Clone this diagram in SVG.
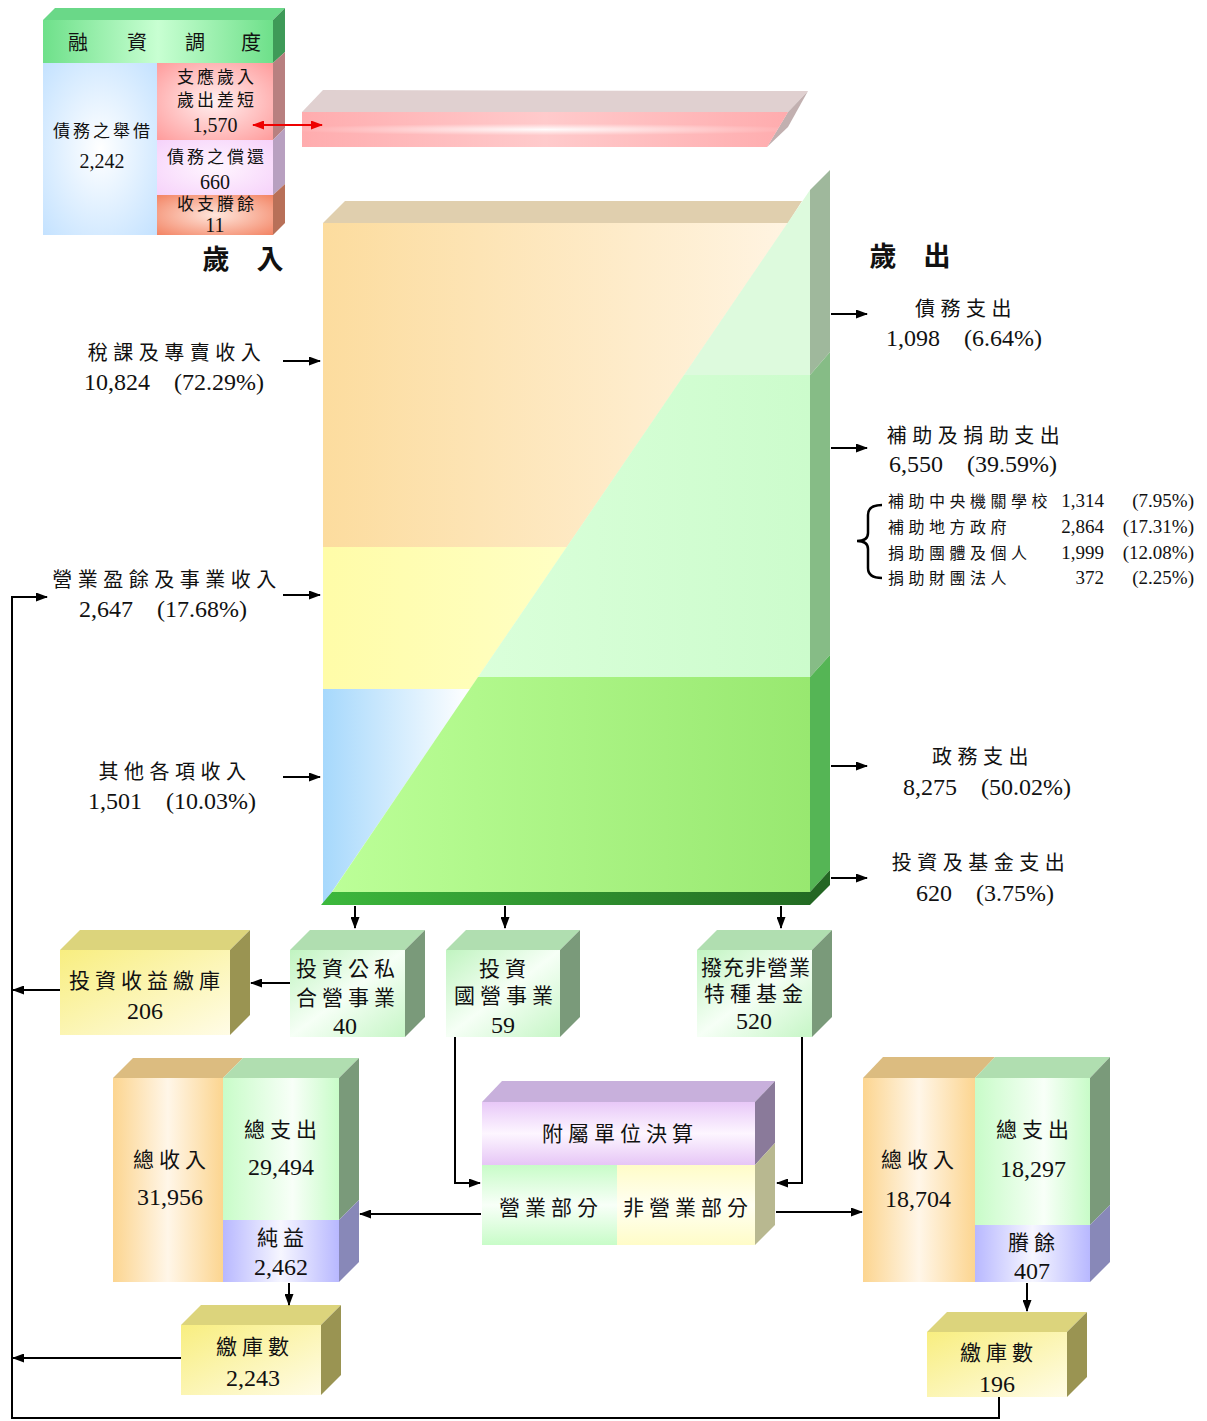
<svg xmlns="http://www.w3.org/2000/svg" width="1207" height="1421" viewBox="0 0 1207 1421">
<style>
text{font-family:"Liberation Serif","Noto Sans CJK TC",serif;fill:#111;text-anchor:middle}
.l{font-size:20px;letter-spacing:5.5px}
.n{font-size:24px}
.s{font-size:17px;letter-spacing:3px}
.sn{font-size:20px}
.b{font-size:21px;letter-spacing:5px}
.bn{font-size:24px}
.h{font-size:27px;font-weight:bold}
.k{font-size:16px;letter-spacing:4.5px;text-anchor:start}
.kn{font-size:19px;text-anchor:end}
.ln{fill:none;stroke:#000;stroke-width:2}
</style>
<defs>
<marker id="ah" viewBox="0 0 12 9" refX="11" refY="4.5" markerWidth="12" markerHeight="9" markerUnits="userSpaceOnUse" orient="auto"><path d="M0,0 L12,4.5 L0,9 z" fill="#000"/></marker>
<marker id="rh" viewBox="0 0 12 9" refX="11" refY="4.5" markerWidth="13" markerHeight="9" markerUnits="userSpaceOnUse" orient="auto-start-reverse"><path d="M0,0 L12,4.5 L0,9 z" fill="#e00"/></marker>
<linearGradient id="gTax" x1="323" y1="0" x2="790" y2="0" gradientUnits="userSpaceOnUse"><stop offset="0" stop-color="#fcdc9e"/><stop offset="1" stop-color="#fff4e2"/></linearGradient>
<linearGradient id="gYel" x1="323" y1="0" x2="567" y2="0" gradientUnits="userSpaceOnUse"><stop offset="0" stop-color="#fffca8"/><stop offset="1" stop-color="#ffffc4"/></linearGradient>
<linearGradient id="gBlu" x1="323" y1="0" x2="470" y2="0" gradientUnits="userSpaceOnUse"><stop offset="0" stop-color="#a6d8fc"/><stop offset="1" stop-color="#ffffff"/></linearGradient>
<linearGradient id="gSub" x1="478" y1="0" x2="810" y2="0" gradientUnits="userSpaceOnUse"><stop offset="0" stop-color="#daffda"/><stop offset="1" stop-color="#ccfccc"/></linearGradient>
<linearGradient id="gGov" x1="332" y1="0" x2="810" y2="0" gradientUnits="userSpaceOnUse"><stop offset="0" stop-color="#bcff98"/><stop offset="1" stop-color="#98e870"/></linearGradient>
<linearGradient id="gStrip" x1="323" y1="0" x2="810" y2="0" gradientUnits="userSpaceOnUse"><stop offset="0" stop-color="#3cb83c"/><stop offset="1" stop-color="#236b23"/></linearGradient>
<linearGradient id="gHdr" x1="0" y1="0" x2="1" y2="0"><stop offset="0" stop-color="#6ee08a"/><stop offset="0.5" stop-color="#c8ffd2"/><stop offset="1" stop-color="#6ee08a"/></linearGradient>
<radialGradient id="rBlue" cx="0.5" cy="0.5" r="0.7"><stop offset="0" stop-color="#ffffff"/><stop offset="1" stop-color="#c4e2ff"/></radialGradient>
<radialGradient id="rPink" cx="0.5" cy="0.5" r="0.7"><stop offset="0" stop-color="#fff0f0"/><stop offset="1" stop-color="#ff9c9c"/></radialGradient>
<radialGradient id="rLav" cx="0.5" cy="0.5" r="0.7"><stop offset="0" stop-color="#fff6ff"/><stop offset="1" stop-color="#f6d2fa"/></radialGradient>
<radialGradient id="rOr" cx="0.5" cy="0.5" r="0.7"><stop offset="0" stop-color="#ffe6dc"/><stop offset="1" stop-color="#f38464"/></radialGradient>
<radialGradient id="rBar" cx="0.5" cy="0.5" r="0.55" gradientTransform="translate(0.5 0.5) scale(1 0.3) translate(-0.5 -0.5)"><stop offset="0" stop-color="#ffffff"/><stop offset="1" stop-color="#ffacae"/></radialGradient>
<linearGradient id="gBarV" x1="0" y1="0" x2="1" y2="0"><stop offset="0" stop-color="#ffacae"/><stop offset="0.5" stop-color="#fff8f8"/><stop offset="1" stop-color="#ffacae"/></linearGradient>
<linearGradient id="gGreen" x1="0" y1="0" x2="1" y2="1"><stop offset="0" stop-color="#c0f4c0"/><stop offset="0.5" stop-color="#f6fff6"/><stop offset="1" stop-color="#c6f6c6"/></linearGradient>
<linearGradient id="gYBox" x1="0" y1="0" x2="1" y2="1"><stop offset="0" stop-color="#f8ee80"/><stop offset="1" stop-color="#fffce6"/></linearGradient>
<linearGradient id="gOrCol" x1="0" y1="0" x2="1" y2="0"><stop offset="0" stop-color="#fcd590"/><stop offset="0.5" stop-color="#fff6e8"/><stop offset="1" stop-color="#fcd590"/></linearGradient>
<linearGradient id="gGrCol" x1="0" y1="0" x2="1" y2="0"><stop offset="0" stop-color="#c8fcc8"/><stop offset="0.6" stop-color="#f8fff8"/><stop offset="1" stop-color="#c8fcc8"/></linearGradient>
<linearGradient id="gPuCol" x1="0" y1="0" x2="1" y2="0"><stop offset="0" stop-color="#b8b8ff"/><stop offset="0.5" stop-color="#f6f6ff"/><stop offset="1" stop-color="#b8b8ff"/></linearGradient>
<linearGradient id="gPurp" x1="0" y1="0" x2="0" y2="1"><stop offset="0" stop-color="#e8c8f8"/><stop offset="0.5" stop-color="#fdf6ff"/><stop offset="1" stop-color="#e6c6f6"/></linearGradient>
<linearGradient id="gOp" x1="0" y1="0" x2="0" y2="1"><stop offset="0" stop-color="#c8fcc8"/><stop offset="0.5" stop-color="#f8fff8"/><stop offset="1" stop-color="#c8fcc8"/></linearGradient>
<linearGradient id="gNop" x1="0" y1="0" x2="0" y2="1"><stop offset="0" stop-color="#fffcc8"/><stop offset="0.5" stop-color="#fffff2"/><stop offset="1" stop-color="#fffcc8"/></linearGradient>
</defs>

<g id="financing">
<polygon points="43,20 55,8 285,8 273,20" fill="#6ad888"/>
<polygon points="273,20 285,8 285,52 273,63" fill="#3e9a58"/>
<polygon points="273,63 285,52 285,128 273,140" fill="#b88080"/>
<polygon points="273,140 285,128 285,184 273,195" fill="#b8a0c0"/>
<polygon points="273,195 285,184 285,223 273,235" fill="#b87058"/>
<rect x="43" y="20" width="230" height="43" fill="url(#gHdr)"/>
<rect x="43" y="63" width="114" height="172" fill="url(#rBlue)"/>
<rect x="157" y="63" width="116" height="77" fill="url(#rPink)"/>
<rect x="157" y="140" width="116" height="55" fill="url(#rLav)"/>
<rect x="157" y="195" width="116" height="40" fill="url(#rOr)"/>
<text x="78" y="50" style="font-size:20px">融</text>
<text x="137" y="50" style="font-size:20px">資</text>
<text x="195" y="50" style="font-size:20px">調</text>
<text x="251" y="50" style="font-size:20px">度</text>
<text class="s" x="103" y="137">債務之舉借</text>
<text class="sn" x="102" y="168">2,242</text>
<text class="s" x="217" y="83">支應歲入</text>
<text class="s" x="217" y="106">歲出差短</text>
<text class="sn" x="215" y="132">1,570</text>
<text class="s" x="217" y="163">債務之償還</text>
<text class="sn" x="215" y="189">660</text>
<text class="s" x="217" y="210">收支賸餘</text>
<text class="sn" x="215" y="232">11</text>
</g>

<g id="deficit-bar">
<polygon points="302,112 323,90 808,91 788,112" fill="#e0d0d0"/>
<polygon points="788,112 808,91 788,127 767,147" fill="#c2b0b0"/>
<polygon points="302,112 788,112 767,147 302,147" fill="url(#gBarV)"/>
<polygon points="302,112 788,112 767,147 302,147" fill="url(#rBar)" opacity="0.6"/>
</g>

<g id="budget">
<polygon points="323,223 345,201 802,201 788,223" fill="#e0cfae"/>
<polygon points="810,190 830,170 830,352 810,375" fill="#9fb89c"/>
<polygon points="810,375 830,352 830,655 810,677" fill="#86bc86"/>
<polygon points="810,677 830,655 830,870 810,892" fill="#55b555"/>
<polygon points="810,892 830,870 830,885 810,905" fill="#236623"/>
<polygon points="323,223 788,223 567,547 323,547" fill="url(#gTax)"/>
<polygon points="323,547 567,547 470,689 323,689" fill="url(#gYel)"/>
<polygon points="323,689 470,689 323,905" fill="url(#gBlu)"/>
<polygon points="810,190 810,375 684,375" fill="#ddfadd"/>
<polygon points="684,375 810,375 810,677 478,677" fill="url(#gSub)"/>
<polygon points="478,677 810,677 810,892 332,892" fill="url(#gGov)"/>
<polygon points="332,892 810,892 810,905 321,905" fill="url(#gStrip)"/>
<text class="h" x="243" y="269">歲　入</text>
<text class="h" x="910" y="266">歲　出</text>
</g>

<g id="revenue-labels">
<text class="l" x="177" y="360">稅課及專賣收入</text>
<text class="n" x="174" y="390">10,824　(72.29%)</text>
<text class="l" x="167" y="587">營業盈餘及事業收入</text>
<text class="n" x="163" y="617">2,647　(17.68%)</text>
<text class="l" x="175" y="779">其他各項收入</text>
<text class="n" x="172" y="809">1,501　(10.03%)</text>
</g>

<g id="expense-labels">
<text class="l" x="966" y="316">債務支出</text>
<text class="n" x="964" y="346">1,098　(6.64%)</text>
<text class="l" x="976" y="443">補助及捐助支出</text>
<text class="n" x="973" y="472">6,550　(39.59%)</text>
<text class="k" x="888" y="507">補助中央機關學校</text>
<text class="kn" x="1104" y="507">1,314</text>
<text class="kn" x="1194" y="507">(7.95%)</text>
<text class="k" x="888" y="533">補助地方政府</text>
<text class="kn" x="1104" y="533">2,864</text>
<text class="kn" x="1194" y="533">(17.31%)</text>
<text class="k" x="888" y="559">捐助團體及個人</text>
<text class="kn" x="1104" y="559">1,999</text>
<text class="kn" x="1194" y="559">(12.08%)</text>
<text class="k" x="888" y="584">捐助財團法人</text>
<text class="kn" x="1104" y="584">372</text>
<text class="kn" x="1194" y="584">(2.25%)</text>
<path d="M882,505 Q868,505 868,515 L868,533 Q868,541 857,541 Q868,541 868,549 L868,568 Q868,578 882,578" fill="none" stroke="#000" stroke-width="2.5"/>
<text class="l" x="983" y="764">政務支出</text>
<text class="n" x="987" y="795">8,275　(50.02%)</text>
<text class="l" x="981" y="870">投資及基金支出</text>
<text class="n" x="985" y="901">620　(3.75%)</text>
</g>

<g id="box-invest-return">
<polygon points="60,950 80,930 250,930 230,950" fill="#dcd47c"/>
<polygon points="230,950 250,930 250,1015 230,1035" fill="#9a9452"/>
<rect x="60" y="950" width="170" height="85" fill="url(#gYBox)"/>
<text class="b" x="147" y="988">投資收益繳庫</text>
<text class="bn" x="145" y="1019">206</text>
</g>

<g id="box-invest-mixed">
<polygon points="290,950 310,930 425,930 405,950" fill="#b0deb0"/>
<polygon points="405,950 425,930 425,1017 405,1037" fill="#7a9a7a"/>
<rect x="290" y="950" width="115" height="87" fill="url(#gGreen)"/>
<text class="b" x="348" y="976">投資公私</text>
<text class="b" x="348" y="1005">合營事業</text>
<text class="bn" x="345" y="1034">40</text>
</g>

<g id="box-invest-state">
<polygon points="446,950 466,930 580,930 560,950" fill="#b0deb0"/>
<polygon points="560,950 580,930 580,1017 560,1037" fill="#7a9a7a"/>
<rect x="446" y="950" width="114" height="87" fill="url(#gGreen)"/>
<text class="b" x="505" y="976">投資</text>
<text class="b" x="506" y="1003">國營事業</text>
<text class="bn" x="503" y="1033">59</text>
</g>

<g id="box-fund">
<polygon points="697,950 717,930 832,930 812,950" fill="#b0deb0"/>
<polygon points="812,950 832,930 832,1017 812,1037" fill="#7a9a7a"/>
<rect x="697" y="950" width="115" height="87" fill="url(#gGreen)"/>
<text class="b" x="756" y="975" style="letter-spacing:1px">撥充非營業</text>
<text class="b" x="756" y="1001">特種基金</text>
<text class="bn" x="754" y="1029">520</text>
</g>

<g id="box-business">
<polygon points="113,1078 133,1058 243,1058 223,1078" fill="#dcbc80"/>
<polygon points="223,1078 243,1058 359,1058 339,1078" fill="#b0deb0"/>
<polygon points="339,1078 359,1058 359,1200 339,1220" fill="#7a9a7a"/>
<polygon points="339,1220 359,1200 359,1262 339,1282" fill="#8888b8"/>
<rect x="113" y="1078" width="110" height="204" fill="url(#gOrCol)"/>
<rect x="223" y="1078" width="116" height="142" fill="url(#gGrCol)"/>
<rect x="223" y="1220" width="116" height="62" fill="url(#gPuCol)"/>
<text class="b" x="172" y="1167">總收入</text>
<text class="bn" x="170" y="1205">31,956</text>
<text class="b" x="283" y="1137">總支出</text>
<text class="bn" x="281" y="1175">29,494</text>
<text class="b" x="283" y="1245">純益</text>
<text class="bn" x="281" y="1275">2,462</text>
</g>

<g id="box-business-treasury">
<polygon points="181,1325 201,1305 341,1305 321,1325" fill="#dcd47c"/>
<polygon points="321,1325 341,1305 341,1375 321,1395" fill="#9a9452"/>
<rect x="181" y="1325" width="140" height="70" fill="url(#gYBox)"/>
<text class="b" x="255" y="1354">繳庫數</text>
<text class="bn" x="253" y="1386">2,243</text>
</g>

<g id="box-attached">
<polygon points="482,1102 502,1081 775,1081 755,1102" fill="#c8b0dc"/>
<polygon points="755,1102 775,1081 775,1143 755,1165" fill="#8a7a9a"/>
<polygon points="755,1165 775,1143 775,1225 755,1245" fill="#b8b890"/>
<rect x="482" y="1102" width="273" height="63" fill="url(#gPurp)"/>
<rect x="482" y="1165" width="135" height="80" fill="url(#gOp)"/>
<rect x="617" y="1165" width="138" height="80" fill="url(#gNop)"/>
<text class="b" x="620" y="1141">附屬單位決算</text>
<text class="b" x="551" y="1215">營業部分</text>
<text class="b" x="688" y="1215">非營業部分</text>
</g>

<g id="box-nonbusiness">
<polygon points="863,1078 883,1057 995,1057 975,1078" fill="#dcbc80"/>
<polygon points="975,1078 995,1057 1110,1057 1090,1078" fill="#b0deb0"/>
<polygon points="1090,1078 1110,1057 1110,1205 1090,1225" fill="#7a9a7a"/>
<polygon points="1090,1225 1110,1205 1110,1262 1090,1282" fill="#8888b8"/>
<rect x="863" y="1078" width="112" height="204" fill="url(#gOrCol)"/>
<rect x="975" y="1078" width="115" height="147" fill="url(#gGrCol)"/>
<rect x="975" y="1225" width="115" height="57" fill="url(#gPuCol)"/>
<text class="b" x="920" y="1167">總收入</text>
<text class="bn" x="918" y="1207">18,704</text>
<text class="b" x="1035" y="1137">總支出</text>
<text class="bn" x="1033" y="1177">18,297</text>
<text class="b" x="1034" y="1250">賸餘</text>
<text class="bn" x="1032" y="1279">407</text>
</g>

<g id="box-nonbusiness-treasury">
<polygon points="927,1332 947,1312 1087,1312 1067,1332" fill="#dcd47c"/>
<polygon points="1067,1332 1087,1312 1087,1377 1067,1397" fill="#9a9452"/>
<rect x="927" y="1332" width="140" height="65" fill="url(#gYBox)"/>
<text class="b" x="999" y="1360">繳庫數</text>
<text class="bn" x="997" y="1392">196</text>
</g>

<g id="connectors">
<line x1="253" y1="125" x2="322" y2="125" stroke="#e00" stroke-width="2" marker-start="url(#rh)" marker-end="url(#rh)"/>
<line class="ln" x1="283" y1="361" x2="320" y2="361" marker-end="url(#ah)"/>
<line class="ln" x1="283" y1="595" x2="320" y2="595" marker-end="url(#ah)"/>
<line class="ln" x1="283" y1="777" x2="320" y2="777" marker-end="url(#ah)"/>
<line class="ln" x1="831" y1="314" x2="867" y2="314" marker-end="url(#ah)"/>
<line class="ln" x1="831" y1="448" x2="867" y2="448" marker-end="url(#ah)"/>
<line class="ln" x1="831" y1="766" x2="867" y2="766" marker-end="url(#ah)"/>
<line class="ln" x1="831" y1="878" x2="867" y2="878" marker-end="url(#ah)"/>
<line class="ln" x1="355" y1="906" x2="355" y2="928" marker-end="url(#ah)"/>
<line class="ln" x1="505" y1="906" x2="505" y2="928" marker-end="url(#ah)"/>
<line class="ln" x1="781" y1="906" x2="781" y2="928" marker-end="url(#ah)"/>
<line class="ln" x1="290" y1="983" x2="251" y2="983" marker-end="url(#ah)"/>
<line class="ln" x1="60" y1="990" x2="13" y2="990" marker-end="url(#ah)"/>
<polyline class="ln" points="455,1037 455,1183 480,1183" marker-end="url(#ah)"/>
<polyline class="ln" points="802,1037 802,1183 777,1183" marker-end="url(#ah)"/>
<line class="ln" x1="481" y1="1214" x2="360" y2="1214" marker-end="url(#ah)"/>
<line class="ln" x1="776" y1="1212" x2="862" y2="1212" marker-end="url(#ah)"/>
<line class="ln" x1="289" y1="1283" x2="289" y2="1305" marker-end="url(#ah)"/>
<line class="ln" x1="1027" y1="1283" x2="1027" y2="1311" marker-end="url(#ah)"/>
<line class="ln" x1="181" y1="1358" x2="13" y2="1358" marker-end="url(#ah)"/>
<polyline class="ln" points="999,1397 999,1418 12,1418 12,597 47,597" marker-end="url(#ah)"/>
</g>
</svg>
